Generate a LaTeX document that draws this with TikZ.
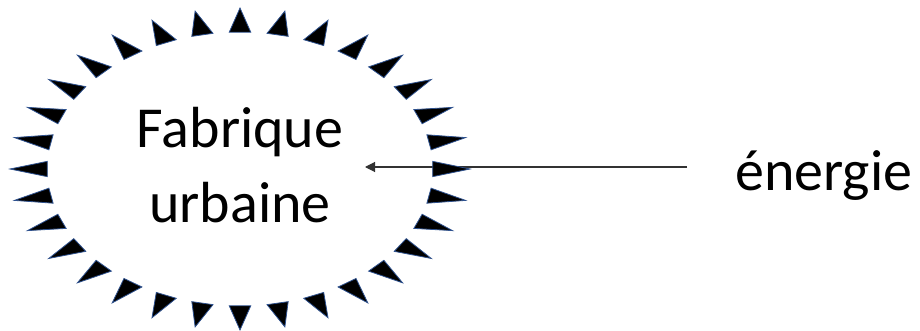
\documentclass[tikz,border=0pt]{standalone}
\usepackage{fontspec}
\setmainfont{Carlito}
\usetikzlibrary{arrows.meta}
\definecolor{spikeedge}{RGB}{47,82,143}
\definecolor{arrowgray}{RGB}{50,50,50}
\tikzset{
  spike/.style={fill=black, draw=spikeedge, line width=0.8pt, line join=miter},
  bigtext/.style={font=\fontsize{58}{70}\selectfont, inner sep=0pt, anchor=base},
  conn/.style={draw=arrowgray, line width=1.1pt, -{Triangle[length=10pt,width=10pt]}}
}
\begin{document}
\begin{tikzpicture}[x=1pt,y=-1pt]
\useasboundingbox (0,0) rectangle (920,331);
\fill[white] (0,0) rectangle (920,331);
\node[bigtext] (fab1) at (240,148) {Fabrique};
\node[bigtext] (fab2) at (240,222) {urbaine};
\node[bigtext, anchor=base west] (energie) at (735,190) {énergie};
\coordinate (tip) at (365,167);
\coordinate (src) at (687,167);
\draw[conn] (src) -- (tip);
\foreach \k in {0,...,31}{
  \pgfmathsetmacro{\t}{90+\k*11.25}
  \pgfmathsetmacro{\ta}{\t-3.2}
  \pgfmathsetmacro{\tb}{\t+3.2}
  \path[spike] ({240+230*cos(\t)},{169-161*sin(\t)})
     -- ({240+193*cos(\ta)},{169-137*sin(\ta)})
     -- ({240+193*cos(\tb)},{169-137*sin(\tb)}) -- cycle;
}
\end{tikzpicture}
\end{document}
